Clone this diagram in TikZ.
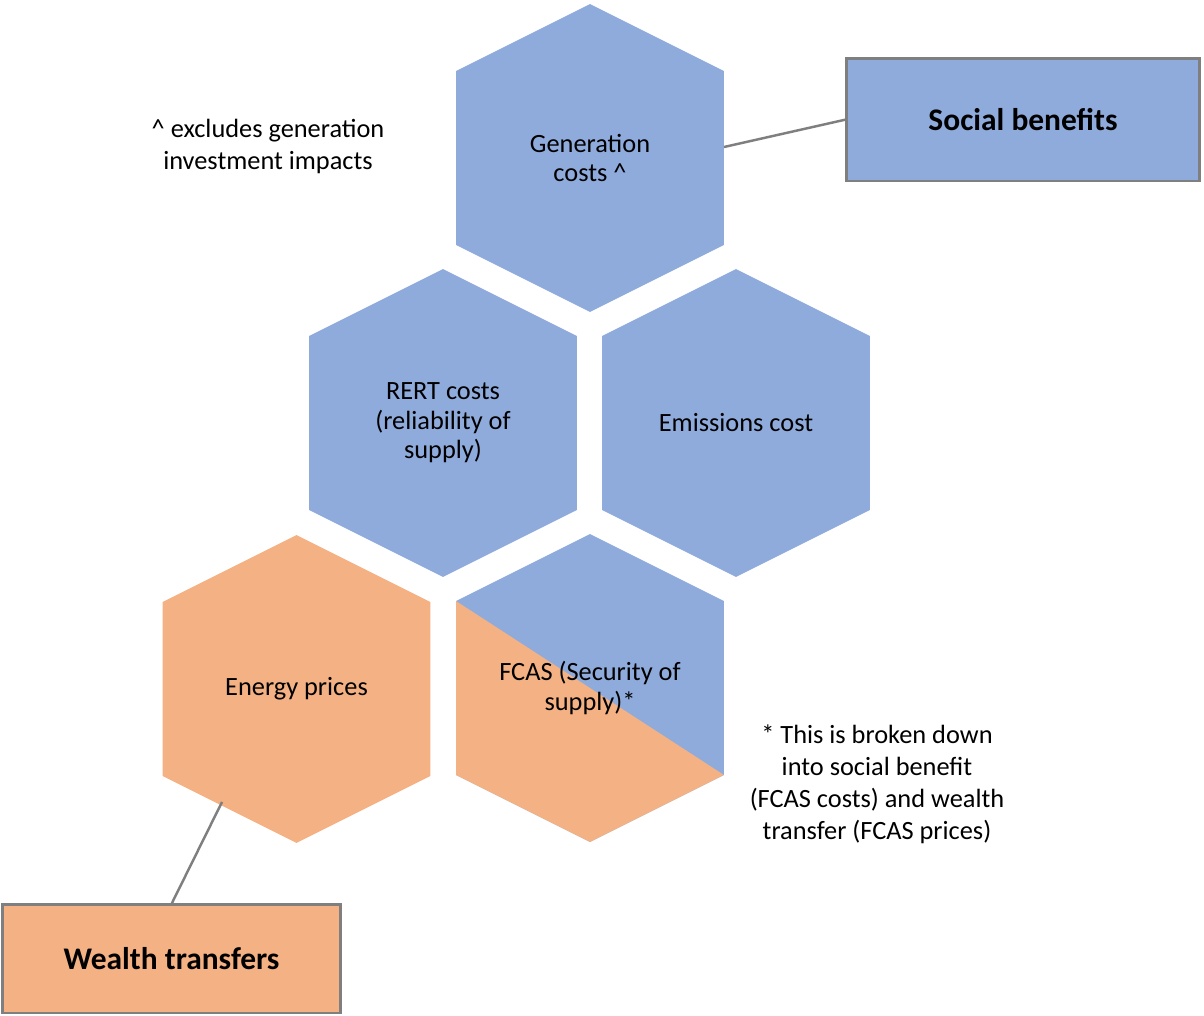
\documentclass[tikz,border=0pt]{standalone}
\usepackage{fontspec}
\setmainfont{Carlito}
\definecolor{hexblue}{HTML}{8FABDC}
\definecolor{hexorange}{HTML}{F4B183}
\definecolor{linegray}{HTML}{7F7F7F}
% full hexagon outline inside the current path picture box
\newcommand{\hexoutline}{(path picture bounding box.north)
  -- ([yshift=-1.34cm]path picture bounding box.north east)
  -- ([yshift=1.34cm]path picture bounding box.south east)
  -- (path picture bounding box.south)
  -- ([yshift=1.34cm]path picture bounding box.south west)
  -- ([yshift=-1.34cm]path picture bounding box.north west) -- cycle}
% lower-left half, cut along the diagonal between the side corners
\newcommand{\hexlowerhalf}{([yshift=-1.34cm]path picture bounding box.north west)
  -- ([yshift=1.34cm]path picture bounding box.south east)
  -- (path picture bounding box.south)
  -- ([yshift=1.34cm]path picture bounding box.south west) -- cycle}
\begin{document}
\begin{tikzpicture}[x=0.02cm,y=-0.02cm,
  hexbase/.style={rectangle, minimum width=5.36cm, minimum height=6.16cm,
    inner sep=0pt, outer sep=0pt, draw=none, align=center,
    font=\fontsize{15}{16.8}\selectfont},
  hexa/.style={hexbase, path picture={\fill[#1] \hexoutline;}},
  splithexa/.style 2 args={hexbase,
    path picture={\fill[#1] \hexoutline; \fill[#2] \hexlowerhalf;}},
  groupbox/.style={draw=linegray, line width=1.7pt, inner sep=0pt, outer sep=0pt,
    font=\fontsize{17.9}{21}\selectfont\bfseries},
  link/.style={draw=linegray, line width=1.4pt},
  note/.style={align=center, inner sep=0pt, font=\fontsize{15}{18.2}\selectfont}]
\useasboundingbox (0,0) rectangle (1204,1015);

% honeycomb of cost components
\node[hexa=hexblue] (gen) at (590,158) {Generation\\costs \string^};
\node[hexa=hexblue] (rert) at (443,423) {RERT costs\\(reliability of\\supply)};
\node[hexa=hexblue] (emis) at (736,423) {Emissions cost};
\node[hexa=hexorange] (energy) at (296.5,689) {Energy prices};
\node[splithexa={hexblue}{hexorange}] (fcas) at (590,688) {FCAS (Security of\\supply)*};

% category boxes
\node[groupbox, fill=hexblue, minimum width=7.08cm, minimum height=2.46cm] (social)
  at (1023,119.5) {Social benefits};
\node[groupbox, fill=hexorange, minimum width=6.78cm, minimum height=2.18cm] (wealth)
  at (171.5,958.5) {Wealth transfers};

% connectors
\draw[link] ([yshift=0.22cm]gen.east) -- (social.west);
\draw[link] ([xshift=-1.49cm,yshift=-2.26cm]energy.center) -- (wealth.north);

% notes
\node[note] (caret) at (268,146) {\string^ excludes generation\\investment impacts};
\node[note] (star) at (877,784) {* This is broken down\\into social benefit\\(FCAS costs) and wealth\\transfer (FCAS prices)};
\end{tikzpicture}
\end{document}
